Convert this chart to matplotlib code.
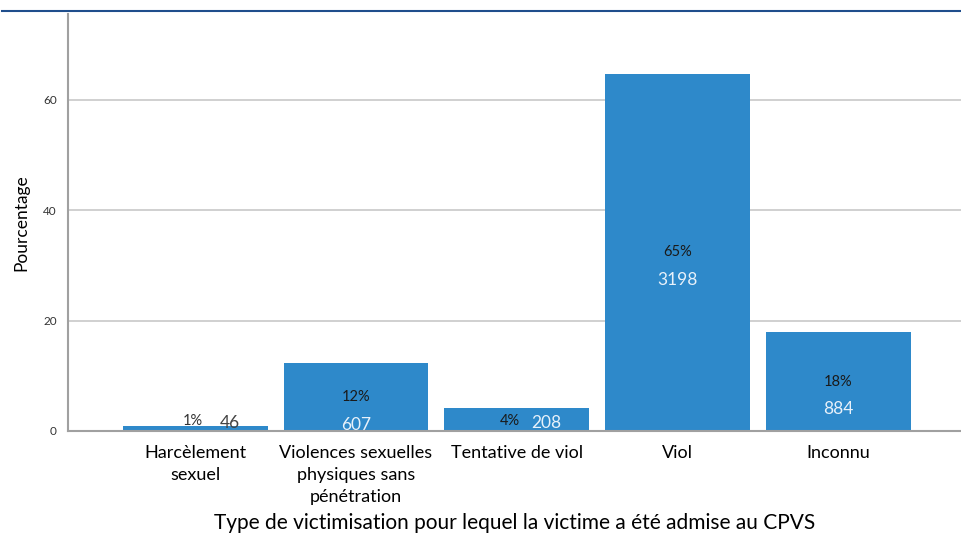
import matplotlib.pyplot as plt
from matplotlib.lines import Line2D

plt.rcParams['font.family'] = ['Lato', 'DejaVu Sans']

CATEGORIES = ["Harcèlement\nsexuel",
              "Violences sexuelles\nphysiques sans\npénétration",
              "Tentative de viol",
              "Viol",
              "Inconnu"]
PERCENTS = [0.93, 12.3, 4.2, 64.7, 17.9]
COUNTS = [46, 607, 208, 3198, 884]
PCT_LABELS = ["1%", "12%", "4%", "65%", "18%"]
YTICKS = [0, 20, 40, 60]

BAR_COLOR = "#2E89CA"

fig = plt.figure(figsize=(9.61, 5.39), dpi=100)
ax = fig.add_axes([0.0708, 0.2004, 0.929, 0.7737])

x = list(range(len(CATEGORIES)))
ax.bar(x, PERCENTS, width=0.9, color=BAR_COLOR, zorder=2)

ax.set_xlim(-0.79, 4.76)
ax.set_ylim(0, 75.5)
ax.set_yticks(YTICKS)
ax.set_yticklabels([str(t) for t in YTICKS], fontsize=8.5, color="#333333")
ax.yaxis.grid(True, color="#c8c8c8", linewidth=1.2, zorder=0)
ax.set_axisbelow(True)
ax.tick_params(axis='both', length=0)
ax.tick_params(axis='y', pad=8)
ax.set_xticks(x)
ax.set_xticklabels(CATEGORIES, fontsize=13, linespacing=1.45, va='top')
ax.tick_params(axis='x', pad=10)

for side in ['top', 'right']:
    ax.spines[side].set_visible(False)
ax.spines['left'].set_color("#a0a0a0")
ax.spines['left'].set_linewidth(1.5)
ax.spines['bottom'].set_color("#a0a0a0")
ax.spines['bottom'].set_linewidth(1.5)

ax.set_ylabel("Pourcentage", fontsize=12.5, labelpad=10)
ax.set_xlabel("Type de victimisation pour lequel la victime a été admise au CPVS",
              fontsize=15, labelpad=6)

# value labels
for i, (p, c, lab) in enumerate(zip(PERCENTS, COUNTS, PCT_LABELS)):
    if p < 2:
        ax.annotate(lab, (i, 0), xytext=(-2, 2), textcoords='offset points',
                    ha='center', va='bottom', fontsize=10.5, color="#333333")
        ax.annotate(str(c), (i, 0), xytext=(25, 0), textcoords='offset points',
                    ha='center', va='bottom', fontsize=12.5, color="#444444")
    elif p < 6:
        ax.annotate(lab, (i, 0), xytext=(-5, 2), textcoords='offset points',
                    ha='center', va='bottom', fontsize=10.5, color="#1a1a1a")
        ax.annotate(str(c), (i, 0), xytext=(21, 0), textcoords='offset points',
                    ha='center', va='bottom', fontsize=12.5, color="#e8f1fa")
    else:
        ax.annotate(lab, (i, p / 2), xytext=(0, 0), textcoords='offset points',
                    ha='center', va='center', fontsize=10.5, color="#1a1a1a")
        ax.annotate(str(c), (i, p / 2), xytext=(0, -20), textcoords='offset points',
                    ha='center', va='center', fontsize=12.5, color="#e8f1fa")

# blue rule at the top of the page
fig.add_artist(Line2D([0.002, 1.0], [1 - 11 / 539, 1 - 11 / 539],
                      transform=fig.transFigure, color="#1f4e8c", linewidth=1.5))

fig.savefig("out.png", dpi=100)
